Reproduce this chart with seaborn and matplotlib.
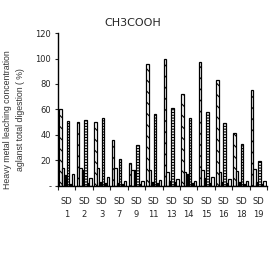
import matplotlib
matplotlib.use("Agg")
import matplotlib.pyplot as plt
from matplotlib.ticker import FixedLocator
import seaborn as sns
import pandas as pd

sites = ["1", "2", "3", "7", "9", "11", "13", "14", "15", "16", "18", "19"]
series_names = ["M1", "M2", "M3", "M4", "M5", "M6"]
m1 = [60, 50, 50, 36, 18, 96, 100, 72, 97, 83, 41, 75]
m2 = [13.5, 14, 14, 14, 12.5, 12, 11, 11, 12, 11, 11.5, 13]
m3 = [8, 12, 3, 2, 12, 3, 4, 9, 6, 3, 3, 3]
m4 = [51, 52, 53, 21, 32, 56, 61, 53, 58, 49, 33, 19]
m5 = [1, 2, 2, 1, 1, 2, 3, 2, 2, 2, 1, 1]
m6 = [9, 6, 7, 4, 4, 4.5, 5, 4, 6.5, 5, 4, 4]
ytick_vals = [0, 20, 40, 60, 80, 100, 120]
ytick_labels = ["-", "20", "40", "60", "80", "100", "120"]
title = "CH3COOH"
ylabel = "Heavy metal leaching concentration\naglanst total digestion ( %)"

rows = []
for name, vals in zip(series_names, [m1, m2, m3, m4, m5, m6]):
    for s, v in zip(sites, vals):
        rows.append({"site": "SD\n" + s, "metal": name, "value": v})
df = pd.DataFrame(rows)

sns.set_style("white")
plt.rcParams["hatch.linewidth"] = 0.8

fig = plt.figure(figsize=(2.70, 2.69), dpi=100)
ax = fig.add_axes([0.215, 0.310, 0.774, 0.567])

palette = ["white", "white", "black", "white", "black", "white"]
sns.barplot(data=df, x="site", y="value", hue="metal", palette=palette,
            width=0.86, edgecolor="black", linewidth=0.9, legend=False, ax=ax,
            errorbar=None, saturation=1)
hatches = ["\\\\\\", None, None, "------", None, None]
for cont, h in zip(ax.containers, hatches):
    for p in cont:
        if h:
            p.set_hatch(h)

ax.set_xlim(-0.5, len(sites) - 0.5)
ax.set_ylim(0, 120)
ax.set_yticks(ytick_vals)
ax.set_yticklabels(ytick_labels, family="DejaVu Sans", fontsize=6)
ax.tick_params(axis="y", length=2, width=0.8, pad=3, left=True, direction="out")
ax.tick_params(axis="x", which="major", length=0, pad=8)
ax.xaxis.set_minor_locator(FixedLocator([i - 0.5 for i in range(len(sites) + 1)]))
ax.tick_params(axis="x", which="minor", length=3, width=0.8, bottom=True, direction="out")
for lab in ax.get_xticklabels():
    lab.set_family("DejaVu Sans")
    lab.set_fontsize(6)
    lab.set_linespacing(1.55)
ax.set_xlabel("")
ax.set_ylabel("")
for sp in ["top", "right"]:
    ax.spines[sp].set_visible(False)
for sp in ["left", "bottom"]:
    ax.spines[sp].set_color("black")
    ax.spines[sp].set_linewidth(1.0)

fig.text(0.49, 0.915, title, ha="center", va="center", fontsize=8,
         family="DejaVu Sans")
fig.text(0.052, 0.555, ylabel, ha="center", va="center", rotation=90,
         fontsize=6.3, family="Liberation Sans", linespacing=1.45,
         color="#333333")

fig.savefig("out.png", dpi=100, facecolor="white")
